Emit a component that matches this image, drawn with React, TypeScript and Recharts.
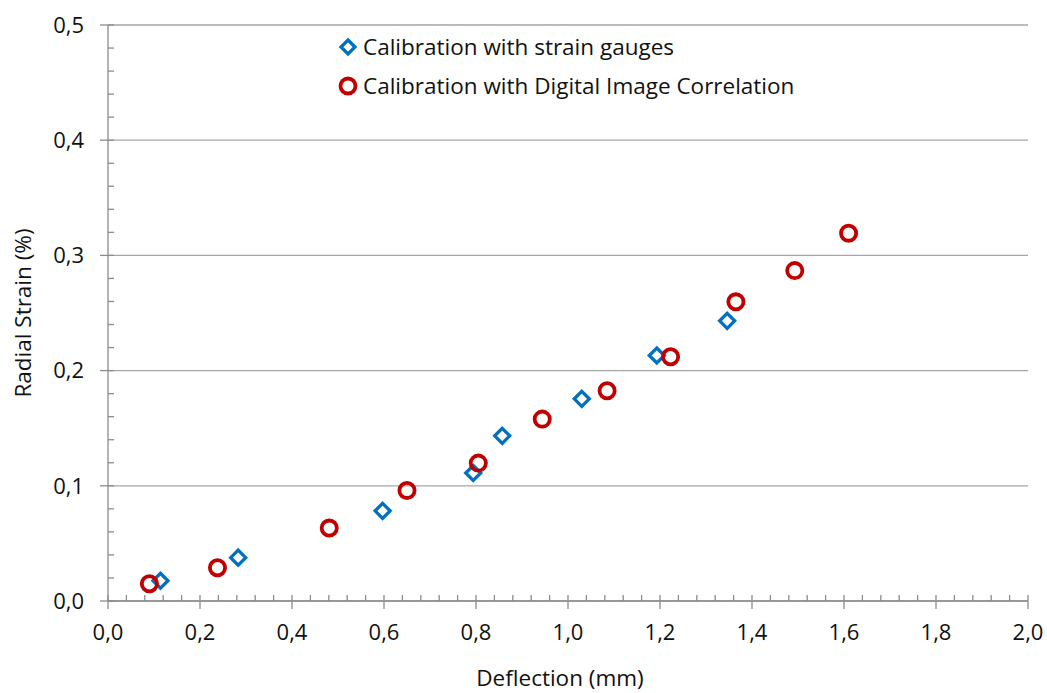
import { ScatterChart, Scatter, XAxis, YAxis, CartesianGrid, Legend } from 'recharts'

// values
const gaugeDeflection = [0.114, 0.283, 0.597, 0.794, 0.857, 1.030, 1.193, 1.346]
const gaugeStrain = [0.0176, 0.0376, 0.0783, 0.1111, 0.1434, 0.1755, 0.2131, 0.2432]

const dicDeflection = [0.090, 0.238, 0.481, 0.650, 0.805, 0.944, 1.085, 1.223, 1.365, 1.493, 1.610]
const dicStrain = [0.0150, 0.0289, 0.0633, 0.0960, 0.1197, 0.1579, 0.1825, 0.2120, 0.2597, 0.2868, 0.3193]

const xTicks = [0, 0.2, 0.4, 0.6, 0.8, 1.0, 1.2, 1.4, 1.6, 1.8, 2.0]
const yTicks = [0, 0.1, 0.2, 0.3, 0.4, 0.5]
const xMinorStep = 0.04
const yMinorStep = 0.02

const xMinorTicks = Array.from({ length: Math.round(2 / xMinorStep) + 1 }, (_, i) => +(i * xMinorStep).toFixed(2))
const yMinorTicks = Array.from({ length: Math.round(0.5 / yMinorStep) + 1 }, (_, i) => +(i * yMinorStep).toFixed(2))

const gaugeData = gaugeDeflection.map((x, i) => ({ x, y: gaugeStrain[i] }))
const dicData = dicDeflection.map((x, i) => ({ x, y: dicStrain[i] }))

const BLUE = '#0070C0'
const RED = '#C00000'
const AXIS = '#8c8c8c'
const GRID = '#a6a6a6'
const FONT = '"Open Sans", sans-serif'

const comma = (v: number) => v.toFixed(1).replace('.', ',')
const NoLabel = () => <g />

const Diamond = ({ cx, cy }: any) => (
  <path
    d={`M${cx},${cy - 7.5} L${cx + 7.5},${cy} L${cx},${cy + 7.5} L${cx - 7.5},${cy} Z`}
    fill="none"
    stroke={BLUE}
    strokeWidth={3.3}
  />
)

const Ring = ({ cx, cy }: any) => (
  <circle cx={cx} cy={cy} r={7.6} fill="none" stroke={RED} strokeWidth={3.8} />
)

const LegendBox = () => (
  <div style={{ fontFamily: FONT, fontSize: 22.5, color: '#111', lineHeight: '39px', whiteSpace: 'nowrap' }}>
    <div style={{ display: 'flex', alignItems: 'center' }}>
      <svg width={20} height={20} style={{ marginRight: 5 }}>
        <path d="M10,3 L17,10 L10,17 L3,10 Z" fill="none" stroke={BLUE} strokeWidth={3.3} />
      </svg>
      Calibration with strain gauges
    </div>
    <div style={{ display: 'flex', alignItems: 'center' }}>
      <svg width={20} height={20} style={{ marginRight: 5 }}>
        <circle cx={10} cy={10} r={7.5} fill="none" stroke={RED} strokeWidth={3.8} />
      </svg>
      Calibration with Digital Image Correlation
    </div>
  </div>
)

export default function App() {
  return (
    <div style={{ position: 'absolute', left: 0, top: 0, background: '#fff', fontFamily: FONT }}>
      <ScatterChart width={1047} height={693} margin={{ top: 25, right: 19, left: 0, bottom: 0 }}>
        <CartesianGrid horizontal vertical={false} stroke={GRID} strokeWidth={1.3} />
        <XAxis
          type="number"
          dataKey="x"
          domain={[0, 2]}
          ticks={xTicks}
          tickFormatter={comma}
          height={92}
          stroke={AXIS}
          strokeWidth={1.3}
          tickSize={8}
          tickMargin={15}
          tick={{ fontSize: 22, fill: '#111' }}
          label={{ value: 'Deflection (mm)', position: 'insideBottom', offset: 7, dx: -8, fontSize: 22.5, fill: '#111' }}
        />
        <XAxis
          xAxisId="minor"
          type="number"
          dataKey="x"
          domain={[0, 2]}
          ticks={xMinorTicks}
          interval={0}
          mirror
          height={1}
          axisLine={false}
          tick={NoLabel}
          tickSize={6}
          tickLine={{ stroke: AXIS, strokeWidth: 1.3 }}
        />
        <YAxis
          type="number"
          dataKey="y"
          domain={[0, 0.5]}
          ticks={yTicks}
          tickFormatter={comma}
          width={108}
          stroke={AXIS}
          strokeWidth={1.3}
          tickSize={8}
          tickMargin={16}
          tick={{ fontSize: 22, fill: '#111' }}
          label={{
            value: 'Radial Strain (%)',
            angle: -90,
            position: 'insideLeft',
            offset: 23,
            fontSize: 22.5,
            fill: '#111',
            style: { textAnchor: 'middle' },
          }}
        />
        <YAxis
          yAxisId="minor"
          type="number"
          dataKey="y"
          domain={[0, 0.5]}
          ticks={yMinorTicks}
          interval={0}
          mirror
          width={1}
          axisLine={false}
          tick={NoLabel}
          tickSize={6}
          tickLine={{ stroke: AXIS, strokeWidth: 1.3 }}
        />
        <Legend
          layout="vertical"
          verticalAlign="middle"
          align="center"
          content={<LegendBox />}
          wrapperStyle={{ top: 27, left: 338, width: 'auto' }}
        />
        {/* invisible series so the minor-tick axes have something bound to them */}
        <Scatter
          xAxisId="minor"
          yAxisId="minor"
          data={gaugeData}
          shape={() => null}
          legendType="none"
          isAnimationActive={false}
        />
        <Scatter
          name="Calibration with strain gauges"
          data={gaugeData}
          shape={<Diamond />}
          isAnimationActive={false}
        />
        <Scatter
          name="Calibration with Digital Image Correlation"
          data={dicData}
          shape={<Ring />}
          isAnimationActive={false}
        />
      </ScatterChart>
    </div>
  )
}
